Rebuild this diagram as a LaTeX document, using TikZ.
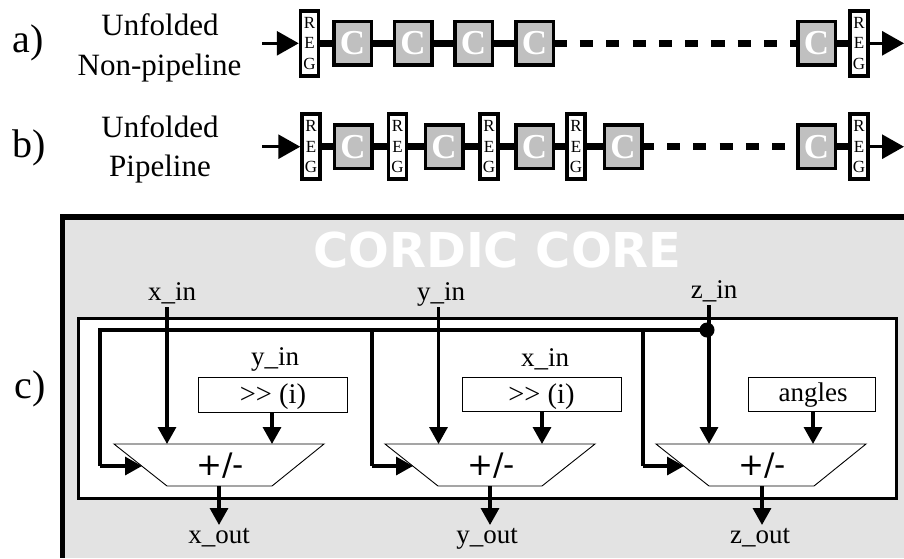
\documentclass[tikz,border=0pt]{standalone}
\usepackage{fontspec}
\setmainfont{Liberation Serif}
\newfontfamily\dejavu{DejaVu Sans}
\usetikzlibrary{arrows.meta}
\definecolor{panelgray}{HTML}{E3E3E3}
\definecolor{cgray}{HTML}{C0C0C0}
\newcommand{\fs}[1]{\fontsize{#1}{#1}\selectfont}
\tikzset{
  regbox/.style={draw=black,fill=white,line width=3.5pt,minimum width=18pt,minimum height=65pt,inner sep=0pt,align=center,font=\fontsize{17}{20.5}\selectfont},
  cbox/.style={draw=black,fill=cgray,line width=3.5pt,minimum width=37.5pt,minimum height=43.5pt,inner sep=0pt,text=white,font=\fs{35}\bfseries},
  link/.style={line width=6.5pt},
  dashlink/.style={line width=6.5pt,dash pattern=on 13.15pt off 13.15pt},
  bigarrow/.style={line width=3pt,-{Triangle[length=22pt,width=24pt]}},
  wire/.style={line width=3.3pt},
  wirearrow/.style={line width=3.3pt,-{Triangle[length=17pt,width=18pt]}},
  lab/.style={anchor=base,inner sep=0pt,font=\fs{27}},
  sidelab/.style={anchor=base,inner sep=0pt,font=\fs{31}},
  letter/.style={anchor=base,inner sep=0pt,font=\fs{40}},
  subbox/.style={draw=black,fill=white,line width=1pt,inner sep=0pt,font=\fs{27}},
  trap/.style={draw=black,fill=white,line width=.9pt},
  addlab/.style={anchor=base,inner sep=0pt,font=\dejavu\fs{31}},
}
\begin{document}
\begin{tikzpicture}[x=1pt,y=-1pt]
\useasboundingbox (0,0) rectangle (904,558);
% side labels
\node[letter] (la) at (28.5,52) {a)};
\node[letter] (lb) at (29.5,157) {b)};
\node[letter] (lc) at (30,398) {c)};
\node[sidelab] (ta1) at (160,35) {Unfolded};
\node[sidelab] (ta2) at (159.5,75) {Non-pipeline};
\node[sidelab] (tb1) at (160,137) {Unfolded};
\node[sidelab] (tb2) at (160,176) {Pipeline};
% row a
\node[regbox] (ra1) at (309.5,43.3) {R\\E\\G};
\node[cbox] (ca1) at (352.5,43.3) {C};
\node[cbox] (ca2) at (413,43.3) {C};
\node[cbox] (ca3) at (473.5,43.3) {C};
\node[cbox] (ca4) at (534.5,43.3) {C};
\node[cbox] (ca5) at (816.5,43.3) {C};
\node[regbox] (ra2) at (859,43.3) {R\\E\\G};
\coordinate (ina) at (262,43.3);
\coordinate (outa) at (904,43.3);
\draw[bigarrow] (ina) -- (ra1.west);
\draw[link] (ra1) -- (ca1);
\draw[link] (ca1) -- (ca2);
\draw[link] (ca2) -- (ca3);
\draw[link] (ca3) -- (ca4);
\draw[dashlink,dash phase=0pt] (553.6,43.3) -- (ca5.west);
\draw[link] (ca5) -- (ra2);
\draw[bigarrow] (ra2.east) -- (outa);
% row b
\node[regbox] (rb1) at (311,146.7) {R\\E\\G};
\node[cbox] (cb1) at (353,146.7) {C};
\node[regbox] (rb2) at (397.5,146.7) {R\\E\\G};
\node[cbox] (cb2) at (444,146.7) {C};
\node[regbox] (rb3) at (489,146.7) {R\\E\\G};
\node[cbox] (cb3) at (534.5,146.7) {C};
\node[regbox] (rb4) at (576,146.7) {R\\E\\G};
\node[cbox] (cb4) at (623,146.7) {C};
\node[cbox] (cb5) at (816.5,146.7) {C};
\node[regbox] (rb5) at (859,146.7) {R\\E\\G};
\coordinate (inb) at (262,146.7);
\coordinate (outb) at (904,146.7);
\coordinate (dashb) at (786,146.7);
\draw[bigarrow] (inb) -- (rb1.west);
\draw[link] (rb1) -- (cb1);
\draw[link] (cb1) -- (rb2);
\draw[link] (rb2) -- (cb2);
\draw[link] (cb2) -- (rb3);
\draw[link] (rb3) -- (cb3);
\draw[link] (cb3) -- (rb4);
\draw[link] (rb4) -- (cb4);
\draw[dashlink] (640.7,146.7) -- (dashb);
\draw[link] (cb5) -- (rb5);
\draw[bigarrow] (rb5.east) -- (outb);
% panel
\fill[panelgray] (60,214.5) rectangle (904,558);
\draw[line width=5.5pt,miter limit=10] (904,217.2) -- (62.7,217.2) -- (62.7,558);
\node[anchor=base,inner sep=0pt,text=white,font=\dejavu\fs{48}\bfseries] (title) at (497.5,267) {CORDIC CORE};
\draw[line width=3pt,fill=white] (78.5,318) rectangle (896,498);
% labels
\node[lab] (xin) at (172,300) {x\_in};
\node[lab] (yin) at (441,300) {y\_in};
\node[lab] (zin) at (714,298) {z\_in};
\node[lab] (yin2) at (275,365.5) {y\_in};
\node[lab] (xin2) at (545,366) {x\_in};
\node[lab] (xout) at (219,543) {x\_out};
\node[lab] (yout) at (487,543) {y\_out};
\node[lab] (zout) at (760,543) {z\_out};
% shift and angle boxes
\node[subbox,minimum width=149pt,minimum height=34.5pt] (sx) at (273,395) {};
\node[subbox,minimum width=159pt,minimum height=34.5pt] (sy) at (541.5,394.5) {};
\node[subbox,minimum width=127pt,minimum height=34pt] (sz) at (812,394) {};
\node[lab,font=\fs{28.5}] (sxt) at (273,403) {>{}> (i)};
\node[lab,font=\fs{28.5}] (syt) at (541.5,403) {>{}> (i)};
\node[lab] (szt) at (813,401.5) {angles};
% adders
\draw[trap] (114,444) coordinate (tx) -- (324,444) -- (272,486) -- (167,486) -- cycle;
\draw[trap] (385,444) coordinate (ty) -- (595,444) -- (542,486) -- (438,486) -- cycle;
\draw[trap] (656,444) coordinate (tz) -- (866,444) -- (814,486) -- (709,486) -- cycle;
\node[addlab] (ax) at (220,475.5) {+/-};
\node[addlab] (ay) at (491,475.5) {+/-};
\node[addlab] (az) at (762,475.5) {+/-};
% named wire points
\coordinate (xa) at (167,307); \coordinate (xb) at (167,444);
\coordinate (ya) at (438.5,307); \coordinate (yb) at (438.5,444);
\coordinate (za) at (709,305); \coordinate (zb) at (709,444);
\coordinate (sxa) at (272,444); \coordinate (sya) at (542,444); \coordinate (sza) at (813,444);
\coordinate (oxa) at (219,486); \coordinate (oxb) at (219,525);
\coordinate (oya) at (490,486); \coordinate (oyb) at (490,525);
\coordinate (oza) at (762,486); \coordinate (ozb) at (762,525);
\coordinate (dot) at (707,330);
\coordinate (fxa) at (100,330); \coordinate (fya) at (372,330); \coordinate (fza) at (643,330);
\coordinate (fxb) at (100,466); \coordinate (fyb) at (372,466); \coordinate (fzb) at (643,466);
\coordinate (fxc) at (142,466); \coordinate (fyc) at (413,466); \coordinate (fzc) at (684,466);
% wires
\draw[wire,miter limit=10] (dot) -- (fxa) -- (fxb);
\draw[wirearrow] (fxb) -- (fxc);
\draw[wire] (fya) -- (fyb);
\draw[wirearrow] (fyb) -- (fyc);
\draw[wire] (fza) -- (fzb);
\draw[wirearrow] (fzb) -- (fzc);
\draw[wirearrow] (xa) -- (xb);
\draw[wirearrow] (ya) -- (yb);
\draw[wirearrow] (za) -- (zb);
\draw[wirearrow] (sx.south -| sxa) -- (sxa);
\draw[wirearrow] (sy.south -| sya) -- (sya);
\draw[wirearrow] (sz.south -| sza) -- (sza);
\draw[wirearrow] (oxa) -- (oxb);
\draw[wirearrow] (oya) -- (oyb);
\draw[wirearrow] (oza) -- (ozb);
\fill (dot) circle (7.5pt);
\end{tikzpicture}
\end{document}
